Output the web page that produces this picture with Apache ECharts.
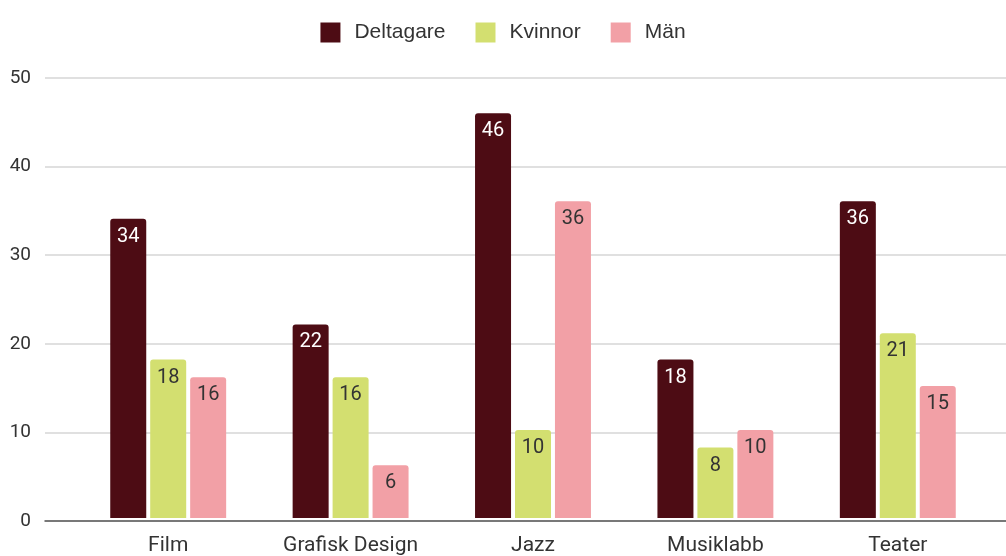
<!DOCTYPE html>
<html>
<head>
<meta charset="utf-8">
<script src="https://cdn.jsdelivr.net/npm/echarts@6/dist/echarts.min.js"></script>
<style>
  html, body { margin: 0; padding: 0; background: #fff; }
  #chart { width: 1006px; height: 556px; }
</style>
</head>
<body>
<div id="chart"></div>
<script>
// kategorier och värden
var categories = ['Film', 'Grafisk Design', 'Jazz', 'Musiklabb', 'Teater'];
var deltagare = [34, 22, 46, 18, 36];
var kvinnor = [18, 16, 10, 8, 21];
var man = [16, 6, 36, 10, 15];
var yTicks = [0, 10, 20, 30, 40, 50];

var font = 'Roboto';

function barSeries(name, data, color, labelColor) {
    return {
        name: name,
        type: 'bar',
        xAxisIndex: 1,
        yAxisIndex: 1,
        data: data,
        barWidth: 36,
        barGap: '11%',
        itemStyle: { color: color, borderRadius: [3, 3, 0, 0] },
        label: {
            show: true,
            position: 'insideTop',
            distance: 8,
            color: labelColor,
            fontFamily: font,
            fontSize: 20
        }
    };
}

var myChart = echarts.init(document.getElementById('chart'));
var option = {
    animation: false,
    legend: {
        top: 17,
        left: 'center',
        itemWidth: 20,
        itemHeight: 20,
        itemGap: 30,
        icon: 'rect',
        textStyle: { fontFamily: 'Liberation Sans', fontSize: 21, color: '#333', padding: [0, 0, 0, 9] },
        data: ['Deltagare', 'Kvinnor', 'Män']
    },
    grid: [
        { left: 45, right: 0, top: 78, bottom: 35 },
        { left: 77, right: 17, top: 78, bottom: 35 }
    ],
    xAxis: [
        {
            gridIndex: 0,
            type: 'category',
            data: [''],
            axisLine: { lineStyle: { color: '#555', width: 1.5 } },
            axisTick: { show: false },
            axisLabel: { show: false }
        },
        {
            gridIndex: 1,
            type: 'category',
            data: categories,
            axisLine: { show: false },
            axisTick: { show: false },
            axisLabel: { margin: 17, fontFamily: font, fontSize: 21, color: '#333' }
        }
    ],
    yAxis: [
        {
            gridIndex: 0,
            type: 'value',
            min: yTicks[0],
            max: yTicks[yTicks.length - 1],
            interval: 10,
            axisLine: { show: false },
            axisTick: { show: false },
            axisLabel: { margin: 14, fontFamily: font, fontSize: 19, color: '#333' },
            splitLine: { lineStyle: { color: '#d6d6d6', width: 1.5 } }
        },
        {
            gridIndex: 1,
            type: 'value',
            min: yTicks[0],
            max: yTicks[yTicks.length - 1],
            interval: 10,
            show: false
        }
    ],
    series: [
        barSeries('Deltagare', deltagare, '#4d0c14', '#fff'),
        barSeries('Kvinnor', kvinnor, '#d3df70', '#333'),
        barSeries('Män', man, '#f2a0a6', '#333')
    ]
};
myChart.setOption(option);
</script>
</body>
</html>
